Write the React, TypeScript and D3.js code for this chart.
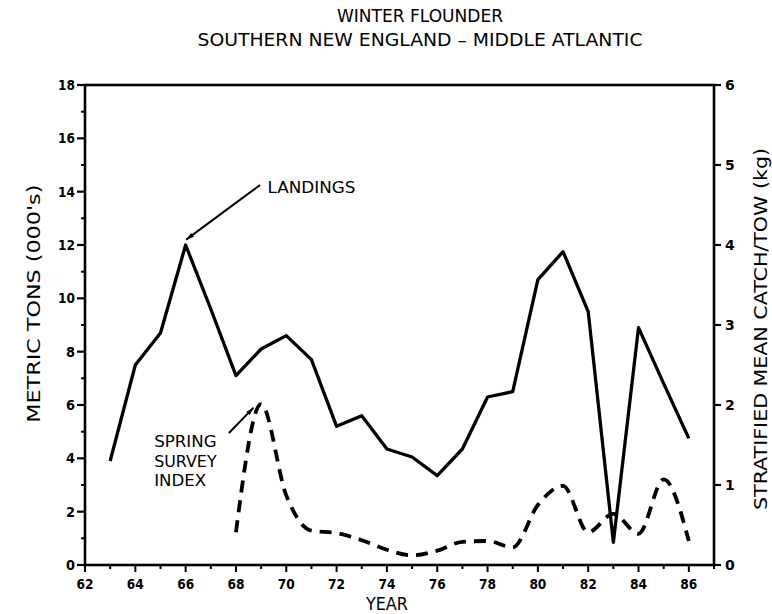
import {curveLinear, curveMonotoneX, line, range, scaleLinear} from "d3";
import {useEffect} from "react";

const LANDING_YEARS = [63, 64, 65, 66, 67, 68, 69, 70, 71, 72, 73, 74, 75, 76, 77, 78, 79, 80, 81, 82, 83, 84, 85, 86];
const LANDINGS = [3.9, 7.5, 8.7, 12.0, 9.6, 7.1, 8.1, 8.6, 7.7, 5.2, 5.6, 4.35, 4.05, 3.35, 4.35, 6.3, 6.5, 10.7, 11.75, 9.5, 0.85, 8.9, 6.8, 4.75];

const SURVEY_YEARS = [68, 69, 70, 71, 72, 73, 74, 75, 76, 77, 78, 79, 80, 81, 82, 83, 84, 85, 86];
const SURVEY = [0.41, 2.01, 0.87, 0.43, 0.4, 0.31, 0.19, 0.12, 0.18, 0.29, 0.3, 0.22, 0.75, 0.99, 0.41, 0.64, 0.39, 1.07, 0.3];

const X_LABEL_TICKS = [62, 64, 66, 68, 70, 72, 74, 76, 78, 80, 82, 84, 86];
const LEFT_LABEL_TICKS = [0, 2, 4, 6, 8, 10, 12, 14, 16, 18];
const RIGHT_LABEL_TICKS = [0, 1, 2, 3, 4, 5, 6];

const TITLE = ["WINTER FLOUNDER", "SOUTHERN NEW ENGLAND \u2013 MIDDLE ATLANTIC"];
const SURVEY_LABEL = ["SPRING", "SURVEY", "INDEX"];

const FONT = "'DejaVu Sans', sans-serif";

type Pt = {year: number; value: number};

export default function App() {
  useEffect(() => {
    document.body.style.margin = "0";
  }, []);

  const width = 772;
  const height = 614;
  const margins = {top: 85, right: 58, bottom: 49, left: 85};
  const innerWidth = width - margins.left - margins.right;
  const innerHeight = height - margins.top - margins.bottom;

  const x = scaleLinear().domain([62, 87]).range([0, innerWidth]);
  const yLeft = scaleLinear().domain([0, 18]).range([innerHeight, 0]);
  const yRight = scaleLinear().domain([0, 6]).range([innerHeight, 0]);

  const landingPts: Pt[] = LANDING_YEARS.map((year, i) => ({year, value: LANDINGS[i]}));
  const surveyPts: Pt[] = SURVEY_YEARS.map((year, i) => ({year, value: SURVEY[i]}));

  const landingLine = line<Pt>()
    .curve(curveLinear)
    .x((d) => x(d.year))
    .y((d) => yLeft(d.value));
  const surveyLine = line<Pt>()
    .curve(curveMonotoneX)
    .x((d) => x(d.year))
    .y((d) => yRight(d.value));

  const yearTicks = range(62, 88);
  const leftMinor = range(1, 18, 2);

  // annotation anchors, in data units
  const landArrow = {x1: x(68.96), y1: yLeft(14.25), x2: x(66.02), y2: yLeft(12.2)};
  const surveyArrow = {x1: x(67.72), y1: yLeft(4.95), x2: x(68.7), y2: yLeft(5.9)};

  return (
    <svg width={width} height={height} style={{display: "block", background: "#fff"}}>
      <defs>
        <marker id="head" viewBox="0 0 10 6" refX={10} refY={3} markerWidth={4} markerHeight={2.4} orient="auto">
          <path d="M0,0 L10,3 L0,6 Z" fill="#000" />
        </marker>
      </defs>

      <g fontFamily={FONT} fill="#000">
        <text x={420} y={22} textAnchor="middle" fontSize={17} textLength={166} lengthAdjust="spacingAndGlyphs">
          {TITLE[0]}
        </text>
        <text x={420} y={46} textAnchor="middle" fontSize={17} textLength={445} lengthAdjust="spacingAndGlyphs">
          {TITLE[1]}
        </text>
      </g>

      <g transform={`translate(${margins.left},${margins.top})`} fontFamily={FONT}>
        {/* frame */}
        <rect x={0} y={0} width={innerWidth} height={innerHeight} fill="none" stroke="#000" strokeWidth={2.6} />

        {/* left axis */}
        {LEFT_LABEL_TICKS.map((t) => (
          <g key={`l-${t}`} transform={`translate(0,${yLeft(t)})`}>
            <line x1={-8} x2={0} stroke="#000" strokeWidth={2.2} />
            <text x={-10} y={5} textAnchor="end" fontSize={14} fontWeight="bold" textLength={t >= 10 ? 17 : 9} lengthAdjust="spacingAndGlyphs">
              {t}
            </text>
          </g>
        ))}
        {leftMinor.map((t) => (
          <line key={`lm-${t}`} x1={-4} x2={0} y1={yLeft(t)} y2={yLeft(t)} stroke="#000" strokeWidth={2} />
        ))}

        {/* right axis */}
        {RIGHT_LABEL_TICKS.map((t) => (
          <g key={`r-${t}`} transform={`translate(${innerWidth},${yRight(t)})`}>
            <line x1={0} x2={7} stroke="#000" strokeWidth={2.2} />
            <text x={11} y={5} fontSize={14} fontWeight="bold">
              {t}
            </text>
          </g>
        ))}

        {/* x axis */}
        {yearTicks.map((t) => (
          <line
            key={`x-${t}`}
            x1={x(t)}
            x2={x(t)}
            y1={innerHeight}
            y2={innerHeight + (t % 2 === 0 ? 7 : 4)}
            stroke="#000"
            strokeWidth={2}
          />
        ))}
        {X_LABEL_TICKS.map((t) => (
          <text
            key={`xl-${t}`}
            x={x(t)}
            y={innerHeight + 24}
            textAnchor="middle"
            fontSize={14}
            fontWeight="bold"
            textLength={17}
            lengthAdjust="spacingAndGlyphs"
          >
            {t}
          </text>
        ))}

        <text x={x(74)} y={innerHeight + 45} textAnchor="middle" fontSize={17} textLength={42} lengthAdjust="spacingAndGlyphs">
          YEAR
        </text>
        <text
          transform={`translate(${-45},${yLeft(9.8)}) rotate(-90)`}
          textAnchor="middle"
          fontSize={18}
          textLength={238}
          lengthAdjust="spacingAndGlyphs"
        >
          METRIC TONS (000's)
        </text>
        <text
          transform={`translate(${innerWidth + 53},${yRight(2.95)}) rotate(-90)`}
          textAnchor="middle"
          fontSize={18}
          textLength={362}
          lengthAdjust="spacingAndGlyphs"
        >
          STRATIFIED MEAN CATCH/TOW (kg)
        </text>

        {/* series */}
        <path d={landingLine(landingPts) ?? ""} fill="none" stroke="#000" strokeWidth={3.3} strokeLinejoin="round" />
        <path
          d={surveyLine(surveyPts) ?? ""}
          fill="none"
          stroke="#000"
          strokeWidth={3.8}
          strokeDasharray="12 8"
          strokeLinecap="butt"
        />

        {/* annotations */}
        <line {...landArrow} stroke="#000" strokeWidth={2} markerEnd="url(#head)" />
        <text x={x(69.25)} y={yLeft(13.95)} fontSize={15} textLength={88} lengthAdjust="spacingAndGlyphs">
          LANDINGS
        </text>

        <line {...surveyArrow} stroke="#000" strokeWidth={2} markerEnd="url(#head)" />
        {SURVEY_LABEL.map((s, i) => (
          <text
            key={s}
            x={x(64.75)}
            y={yLeft(4.42) + i * 19.5}
            fontSize={15}
            textLength={s.length * 10.4}
            lengthAdjust="spacingAndGlyphs"
          >
            {s}
          </text>
        ))}
      </g>
    </svg>
  );
}
